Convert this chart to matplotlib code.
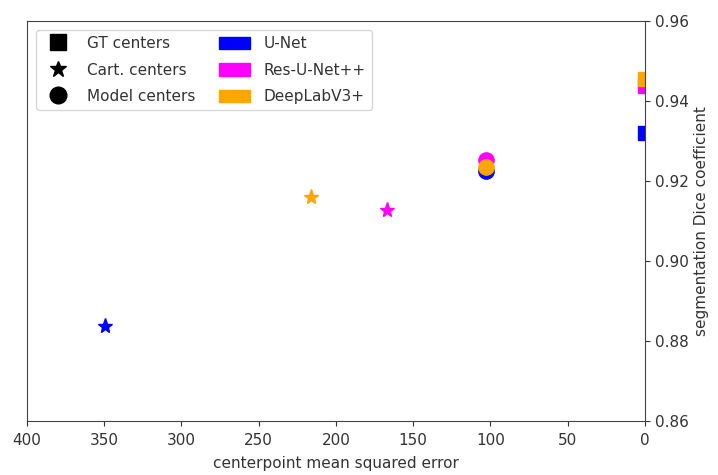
import numpy as np
import matplotlib.pyplot as plt
from matplotlib.lines import Line2D
from matplotlib.patches import Patch

# models and their colours
models = ['U-Net', 'Res-U-Net++', 'DeepLabV3+']
colors = ['blue', 'magenta', 'orange']

# dice with ground truth centers (mse = 0)
gt_mse = [0, 0, 0]
gt_dice = [0.932, 0.9437, 0.9455]

# dice with cartesian centers
cart_mse = [349.5, 167, 216]
cart_dice = [0.8838, 0.9127, 0.9160]

# dice with model-predicted centers
model_mse = [103, 103, 103]
model_dice = [0.9225, 0.9252, 0.9236]

fig = plt.figure(figsize=(7.18, 4.75), dpi=100)
ax = fig.add_axes([0.0376, 0.1137, 0.8607, 0.8421])

for i in range(len(models)):
    ax.plot(gt_mse[i], gt_dice[i], 's', color=colors[i], markersize=10)
    ax.plot(cart_mse[i], cart_dice[i], '*', color=colors[i], markersize=11)
    ax.plot(model_mse[i], model_dice[i], 'o', color=colors[i], markersize=11)

ax.set_xlim(400, 0)
ax.set_ylim(0.86, 0.96)
ax.set_xticks(np.arange(400, -1, -50))
ax.set_yticks([0.86, 0.88, 0.90, 0.92, 0.94, 0.96])
ax.yaxis.tick_right()
ax.yaxis.set_label_position('right')
ax.tick_params(labelsize=11, colors='#333333')
ax.tick_params(axis='x', pad=5)
for s in ax.spines.values():
    s.set_color('#444444')
ax.set_xlabel('centerpoint mean squared error', fontsize=11, color='#333333', labelpad=6)
ax.set_ylabel('segmentation Dice coefficient', fontsize=11, color='#333333')

handles = [
    Line2D([], [], marker='s', color='black', linestyle='none', markersize=12),
    Line2D([], [], marker='*', color='black', linestyle='none', markersize=12),
    Line2D([], [], marker='o', color='black', linestyle='none', markersize=12),
] + [Patch(color=c) for c in colors]
labels = ['GT centers', 'Cart. centers', 'Model centers'] + models
leg = ax.legend(handles, labels, ncol=2, loc='upper left', fontsize=11,
                labelspacing=0.75, handletextpad=0.9, columnspacing=1.6,
                borderaxespad=0.6, handleheight=0.9)
for t in leg.get_texts():
    t.set_color('#333333')

fig.savefig('out.png', dpi=100)
